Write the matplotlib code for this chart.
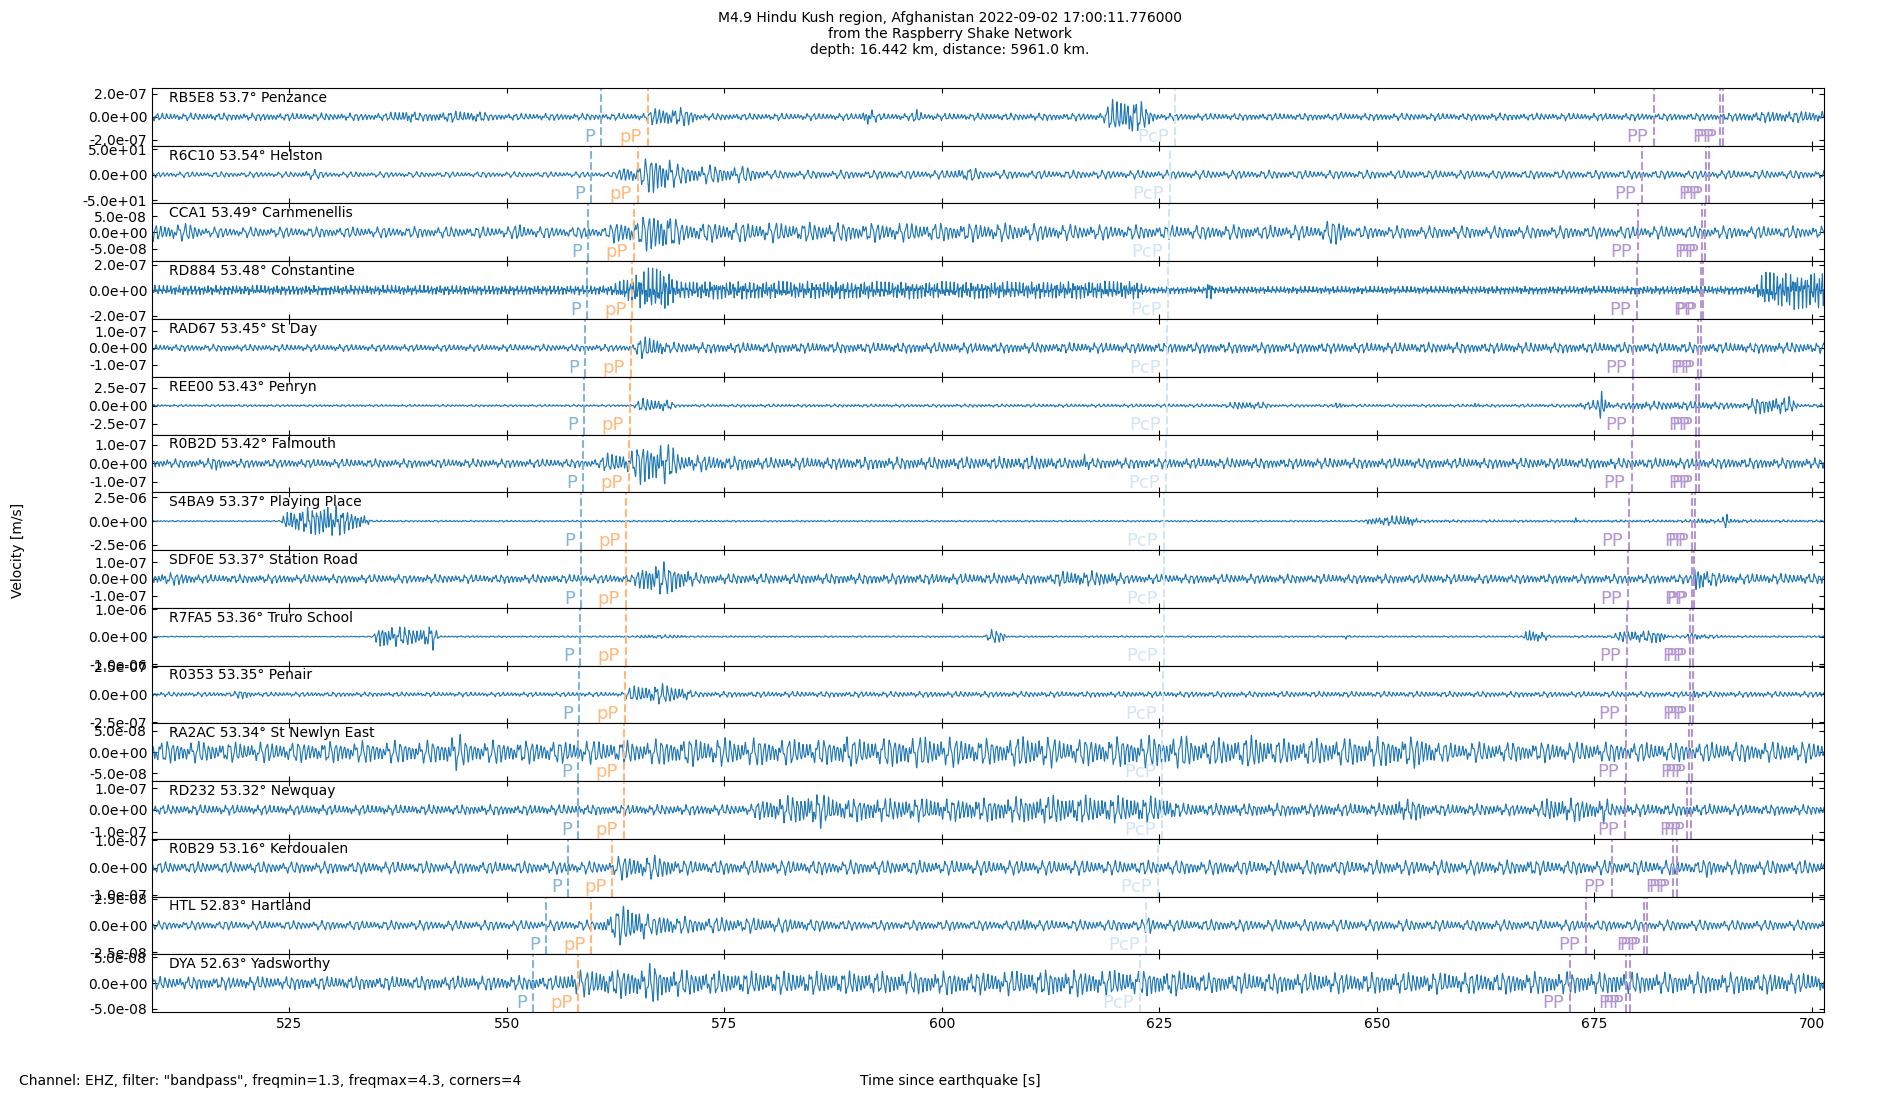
import numpy as np
import matplotlib
matplotlib.use('Agg')
import matplotlib.pyplot as plt
from matplotlib.ticker import FormatStrFormatter

# station list, top to bottom
codes = ['RB5E8', 'R6C10', 'CCA1', 'RD884', 'RAD67', 'REE00', 'R0B2D', 'S4BA9',
         'SDF0E', 'R7FA5', 'R0353', 'RA2AC', 'RD232', 'R0B29', 'HTL', 'DYA']
dists = ['53.7', '53.54', '53.49', '53.48', '53.45', '53.43', '53.42', '53.37',
         '53.37', '53.36', '53.35', '53.34', '53.32', '53.16', '52.83', '52.63']
places = ['Penzance', 'Helston', 'Carnmenellis', 'Constantine', 'St Day', 'Penryn',
          'Falmouth', 'Playing Place', 'Station Road', 'Truro School', 'Penair',
          'St Newlyn East', 'Newquay', 'Kerdoualen', 'Hartland', 'Yadsworthy']

# half range of each panel and its tick value
y_half = [2.52e-7, 56.5, 8.9e-8, 2.27e-7, 1.73e-7, 4.0e-7, 1.56e-7, 3.05e-6,
          1.73e-7, 1.05e-6, 2.6e-7, 6.8e-8, 1.32e-7, 1.06e-7, 2.7e-8, 5.6e-8]
y_tick = [2.0e-7, 50, 5e-8, 2e-7, 1e-7, 2.5e-7, 1e-7, 2.5e-6,
          1e-7, 1e-6, 2.5e-7, 5e-8, 1e-7, 1e-7, 2.5e-8, 5e-8]

# arrival times [s]
p_times = [560.87, 559.72, 559.37, 559.21, 558.98, 558.87, 558.79, 558.52,
           558.49, 558.41, 558.33, 558.22, 558.14, 556.99, 554.54, 553.04]
pp_small_times = [566.16, 565.01, 564.55, 564.43, 564.28, 564.16, 564.05, 563.74,
                  563.70, 563.66, 563.55, 563.47, 563.43, 562.13, 559.72, 558.22]
pcp_times = [626.80, 626.27, 626.07, 626.03, 625.88, 625.84, 625.77, 625.54,
             625.54, 625.50, 625.42, 625.34, 625.31, 624.80, 623.47, 622.78]
PP_a = [681.85, 680.47, 680.01, 679.90, 679.47, 679.40, 679.28, 678.94,
        678.86, 678.74, 678.66, 678.59, 678.48, 676.98, 674.03, 672.19]
PP_b = [689.44, 687.79, 687.33, 687.22, 686.91, 686.72, 686.68, 686.18,
        686.18, 686.03, 685.95, 685.83, 685.68, 684.03, 680.69, 678.63]
PP_c = [689.75, 688.14, 687.68, 687.52, 687.22, 687.03, 686.99, 686.53,
        686.49, 686.37, 686.30, 686.18, 686.07, 684.45, 681.11, 679.13]

t_start, t_end = 509.2, 701.4
fs = 100.0
freqmin, freqmax, corners = 1.3, 4.3, 4

# spectral tilt of each trace (more negative = lower pitched wiggles)
tilt = [-1.0, -1.5, -1.5, 0.5, -1.0, -0.8, -1.0, -0.5,
        -1.0, -0.8, -1.0, -1.5, -1.0, -1.5, -1.5, -1.2]

# amplitude envelopes: (time, fraction of panel half range)
env_RB5E8 = [(509, .13), (536, .13), (538.7, .25), (540, .14), (544, .2), (547, .2), (548, .12),
             (566, .12), (567, .35), (571, .3), (572, .12), (590.5, .12), (591.5, .32),
             (592.8, .12), (596.5, .12), (597, .28), (598, .12), (618.5, .13), (619.5, .6),
             (622, .7), (624.5, .15), (625, .12), (690, .13), (695, .2), (702, .2)]
env_R6C10 = [(509, .1), (526, .1), (527.5, .2), (529, .1), (562.5, .1), (563.5, .35), (565, .3),
             (566.8, .75), (568.5, .7), (569.5, .35), (577, .3), (580, .15), (601, .15),
             (602, .25), (603.5, .25), (604.5, .15), (702, .15)]
env_CCA1 = [(509, .3), (514, .3), (515, .18), (550.5, .2), (551.5, .32), (552.5, .2), (561.5, .2),
            (562.5, .4), (565, .45), (567, .8), (568.5, .75), (570, .35), (606, .32), (620, .25),
            (643.5, .25), (644.5, .45), (646, .4), (647, .22), (702, .22)]
env_RD884 = [(509, .16), (562, .16), (563, .3), (566.5, .75), (568.5, .7), (569.5, .3), (606, .28),
             (622.5, .3), (623.5, .12), (630.2, .12), (630.7, .4), (631.3, .12), (693.5, .14),
             (694.5, .6), (702, .65)]
env_RAD67 = [(509, .12), (564.5, .12), (565.5, .4), (567.5, .35), (568.5, .18), (702, .18)]
env_REE00 = [(509, .04), (564.5, .04), (565.5, .25), (568.5, .2), (569.5, .05), (632.5, .06),
             (634, .15), (637, .12), (638, .05), (645, .05), (645.4, .13), (646.5, .05),
             (661, .05), (661.3, .12), (662, .05), (672.5, .06), (675.4, .2), (675.7, .75),
             (676.3, .25), (677, .08), (680, .15), (687, .15), (692.5, .1), (693.5, .3),
             (697.5, .3), (698.5, .06), (702, .06)]
env_R0B2D = [(509, .15), (515.5, .15), (516.5, .25), (517.5, .15), (560.5, .15), (561.5, .35),
             (564, .35), (565.5, .75), (568.5, .7), (570, .3), (575, .25), (580, .2), (606, .22),
             (612, .25), (614, .18), (616, .2), (616.4, .42), (617, .18), (702, .18)]
env_S4BA9 = [(509, .025), (524, .025), (524.6, .35), (527, .45), (529.5, .6), (531, .45),
             (533.7, .2), (534.5, .03), (648.5, .03), (649, .12), (653, .2), (654, .18),
             (655, .05), (672.5, .04), (672.8, .15), (673.3, .04), (686.3, .05), (687, .1),
             (689.7, .05), (690, .4), (690.6, .08), (693, .05), (702, .04)]
env_SDF0E = [(509, .17), (512, .22), (515, .15), (564.5, .15), (565.5, .45), (567.5, .6),
             (570.5, .35), (572, .18), (612.5, .18), (614, .28), (620, .25), (621, .16),
             (686.2, .16), (686.6, .6), (688, .3), (690, .18), (702, .18)]
env_R7FA5 = [(509, .02), (534.5, .02), (535.5, .45), (537, .35), (540, .3), (541.5, .45),
             (542.2, .03), (564.8, .03), (565.5, .07), (570, .06), (571, .03), (604.8, .03),
             (605.8, .25), (607, .2), (607.5, .03), (646, .03), (646.4, .1), (647, .03),
             (666.8, .03), (667.3, .3), (669.5, .12), (670, .03), (677, .05), (678.5, .25),
             (681, .2), (682.5, .25), (683.5, .05), (685.6, .05), (686, .25), (687, .1),
             (690, .04), (702, .03)]
env_R0353 = [(509, .08), (518.5, .08), (519.5, .18), (521, .08), (563.3, .08), (564.5, .3),
             (568, .35), (570.5, .25), (571.5, .1), (686, .1), (686.5, .2), (687.5, .1), (702, .1)]
env_RA2AC = [(509, .4), (520, .35), (542.5, .4), (544, .7), (545.5, .4), (565, .4), (570, .5),
             (588, .45), (589, .7), (590, .45), (596, .55), (598, .55), (606, .45), (611, .6),
             (614, .45), (628, .6), (629, .45), (637, .6), (638, .45), (656, .55), (657, .35),
             (702, .35)]
env_RD232 = [(509, .17), (578, .18), (579, .35), (586, .6), (588, .4), (606, .4), (612, .5),
             (626, .45), (627.5, .22), (651.5, .22), (652.5, .38), (655, .35), (656, .2),
             (668.5, .2), (669.5, .4), (673, .4), (675.5, .3), (676, .5), (677, .22), (702, .17)]
env_R0B29 = [(509, .2), (562, .22), (563, .42), (568.6, .4), (570, .25), (667, .25), (667.6, .35),
             (668.5, .25), (687.5, .25), (688, .35), (689, .25), (702, .25)]
env_HTL = [(509, .15), (560.5, .18), (561.5, .35), (563, .7), (565.5, .65), (566.5, .3),
           (568.6, .45), (569.5, .3), (582, .25), (590, .17), (609, .18), (609.5, .32),
           (610.5, .18), (623.3, .2), (623.8, .38), (624.5, .2), (702, .18)]
env_DYA = [(509, .22), (556, .25), (558, .45), (566, .55), (567, .75), (568, .5), (575, .4),
           (606, .4), (610, .45), (619, .45), (627, .45), (630, .35), (677, .38), (677.3, .5),
           (678, .38), (702, .35)]

envelopes = [env_RB5E8, env_R6C10, env_CCA1, env_RD884, env_RAD67, env_REE00, env_R0B2D,
             env_S4BA9, env_SDF0E, env_R7FA5, env_R0353, env_RA2AC, env_RD232, env_R0B29,
             env_HTL, env_DYA]

t = np.arange(t_start, t_end, 1.0 / fs)


def wiggle(n, k, slope):
    """band limited wiggle (bandpass freqmin - freqmax) used as carrier"""
    f = np.fft.rfftfreq(n, 1.0 / fs)
    m = np.arange(f.size)
    hp = (f / freqmin) ** (2 * corners) / (1 + (f / freqmin) ** (2 * corners))
    lp = 1 / (1 + (f / freqmax) ** (2 * corners))
    w = np.sqrt(hp * lp) * (f + 0.05) ** slope
    ph = 2 * np.pi * ((m * m * 0.7548777 + m * (k + 1) * 0.5698403 + k * k * 0.318) % 1.0)
    s = np.fft.irfft(w * np.exp(1j * ph), n)
    return s / (2.2 * s.std())


phase_cols = {'P': '#84b4d6', 'pP': '#ffb87a', 'PcP': '#d2e5f0', 'PP': '#b497d1'}

fig, axes = plt.subplots(16, 1, sharex=True, figsize=(19, 11), dpi=100)
fig.subplots_adjust(left=0.08, right=0.96, top=0.92, bottom=0.08, hspace=0)

for i, ax in enumerate(axes):
    kt, ka = zip(*envelopes[i])
    env = np.interp(t, kt, ka) * y_half[i]
    ax.plot(t, env * wiggle(t.size, i, tilt[i]), color='#1f77b4', lw=0.8)

    ax.set_xlim(t_start, t_end)
    ax.set_ylim(-y_half[i], y_half[i])
    ax.set_yticks([-y_tick[i], 0, y_tick[i]])
    ax.yaxis.set_major_formatter(FormatStrFormatter('%.1e'))
    ax.tick_params(direction='in', top=True, right=True)

    ax.text(0.01, 0.95, codes[i] + ' ' + dists[i] + '\u00b0 ' + places[i],
            transform=ax.transAxes, ha='left', va='top', fontsize=10)

    trans = ax.get_xaxis_transform()
    arrivals = [(p_times[i], 'P'), (pp_small_times[i], 'pP'), (pcp_times[i], 'PcP'),
                (PP_a[i], 'PP'), (PP_b[i], 'PP'), (PP_c[i], 'PP')]
    for tp, name in arrivals:
        c = phase_cols[name]
        ax.axvline(tp, color=c, ls='--', lw=1.5)
        ax.text(tp - 0.7, 0.07, name, color=c, transform=trans,
                ha='right', va='baseline', fontsize=13)

axes[-1].set_xticks([525, 550, 575, 600, 625, 650, 675, 700])

fig.suptitle('M4.9 Hindu Kush region, Afghanistan 2022-09-02 17:00:11.776000\n'
             'from the Raspberry Shake Network\n'
             'depth: 16.442 km, distance: 5961.0 km.', fontsize=10, y=0.99)
fig.text(0.5, 0.017, 'Time since earthquake [s]', ha='center', va='center', fontsize=10)
fig.text(0.006, 0.5, 'Velocity [m/s]', rotation=90, ha='left', va='center', fontsize=10)
fig.text(0.01, 0.017, 'Channel: EHZ, filter: "bandpass", freqmin=1.3, freqmax=4.3, corners=4',
         ha='left', va='center', fontsize=10)

fig.savefig('out.png')
